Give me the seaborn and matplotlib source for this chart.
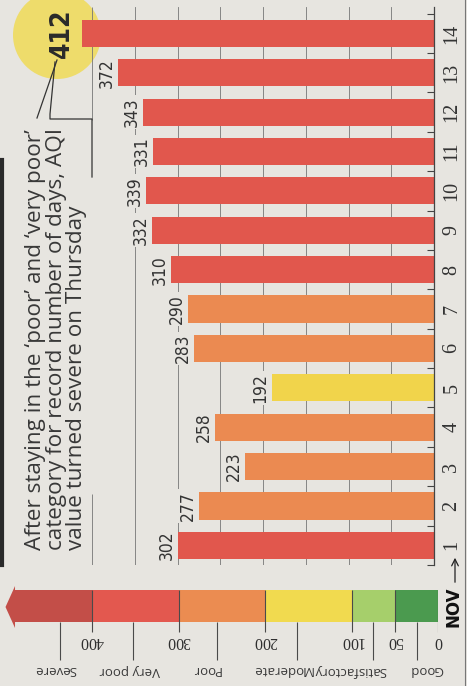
import numpy as np
import pandas as pd
import seaborn as sns
import matplotlib.pyplot as plt
from matplotlib.patches import Polygon, Circle
from matplotlib import font_manager

days = [str(d) for d in range(1, 15)]
aqi = [302, 277, 223, 258, 192, 283, 290, 310, 332, 339, 331, 343, 372, 412]

band_names = ['Good', 'Satisfactory', 'Moderate', 'Poor', 'Very poor', 'Severe']
band_edges = [0, 50, 100, 200, 300, 400, 500]
band_colors = ['#4b9a4f', '#a6cf6b', '#f1da4f', '#eb8c51', '#e3584f', '#c34e48']
bar_palette = {'Moderate': '#f1d44b', 'Poor': '#eb8a51', 'Very poor': '#e1574d', 'Severe': '#e1574d'}

note = ("After staying in the \u2018poor\u2019 and \u2018very poor\u2019\n"
        "category for record number of days, AQI\n"
        "value turned severe on Thursday")

paper = '#e7e5e0'
ink = '#333333'
W, H = 467, 686

names = {f.name for f in font_manager.fontManager.ttflist}
narrow = 'Liberation Sans Narrow' if 'Liberation Sans Narrow' in names else 'DejaVu Sans'
serif = 'Liberation Serif' if 'Liberation Serif' in names else 'DejaVu Serif'
sans = 'Open Sans' if 'Open Sans' in names else 'DejaVu Sans'

bands = [band_names[np.searchsorted(band_edges, v) - 1] for v in aqi]
df = pd.DataFrame({'day': days, 'aqi': aqi, 'band': bands})
order = days[::-1]
pal = {d: bar_palette[b] for d, b in zip(days, bands)}

fig = plt.figure(figsize=(W / 100, H / 100), dpi=100)
fig.patch.set_facecolor(paper)

# yellow highlight behind the last bar
bg = fig.add_axes([0, 0, 1, 1], zorder=-1)
bg.set_xlim(0, W)
bg.set_ylim(H, 0)
bg.axis('off')
bg.add_patch(Circle((57, 35), 44, color='#eedc6b', lw=0))

# main chart, turned on its side
ax = fig.add_axes([0, 1 - 565 / H, 434 / W, (565 - 7) / H], zorder=1)
ax.set_facecolor('none')
sns.barplot(data=df, x='aqi', y='day', hue='day', order=order, hue_order=days,
            palette=pal, orient='h', width=0.69, saturation=1, legend=False,
            linewidth=0, ax=ax, zorder=2)
ax.set_xlim(434 / 0.855, 0)
ax.set_ylim(13.5, -0.67)

for v in range(50, 400, 50):
    ax.axvline(v, color='#767676', lw=0.6, zorder=1)
ax.vlines(400, -0.67, 2.2, color='#767676', lw=0.6, zorder=1)
ax.vlines(400, 11.7, 13.5, color='#767676', lw=0.6, zorder=1)

for d, v in zip(days, aqi):
    y = order.index(d)
    if v == max(aqi):
        ax.text(v + 15, y, str(v), rotation=90, rotation_mode='anchor', ha='center',
                va='baseline', fontsize=19, fontweight='bold', family=narrow,
                fontstretch='condensed', color='#2a2a2a', zorder=3)
    else:
        ax.text(v + 5, y, str(v), rotation=90, rotation_mode='anchor', ha='center',
                va='baseline', fontsize=12.5, family=narrow, fontstretch='condensed',
                color=ink, zorder=3,
                bbox=dict(boxstyle='square,pad=0.12', fc=paper, ec='none'))

for s in ['left', 'top', 'bottom']:
    ax.spines[s].set_visible(False)
ax.spines['right'].set_color('#444444')
ax.spines['right'].set_linewidth(0.9)
ax.set_xticks([])
ax.set_xlabel('')
ax.set_ylabel('')
ax.yaxis.tick_right()
ax.set_yticks(range(len(order)))
ax.set_yticklabels(order)
for lab in ax.get_yticklabels():
    lab.set_rotation(90)
    lab.set_va('center')
    lab.set_family(serif)
    lab.set_fontsize(14.5)
    lab.set_color(ink)
ax.set_yticks(np.arange(-0.5, 14, 1), minor=True)
ax.tick_params(axis='y', which='major', length=0, pad=6)
ax.tick_params(axis='y', which='minor', direction='in', length=5, width=0.8,
               color='#444444', right=True, left=False)

# colour key along the bottom
lg = fig.add_axes([0, 0, 438 / W, 126 / H], zorder=1)
lg.set_facecolor('none')
lg.set_xlim(438 / 0.865, 0)
lg.set_ylim(126, 0)
lg.axis('off')
for i in range(5):
    lg.barh(46, band_edges[i + 1] - band_edges[i], left=band_edges[i], height=32,
            color=band_colors[i], lw=0)
lo, hi = band_edges[5], band_edges[6]
lg.add_patch(Polygon([(lo, 30), (hi - 11, 30), (hi - 11, 26), (hi, 47),
                      (hi - 11, 68), (hi - 11, 62), (lo, 62)],
                     closed=True, color=band_colors[5], lw=0))
lg.vlines(band_edges[:6], 30, 72, color='#4a4a4a', lw=0.8)
for e in band_edges[:6]:
    lg.text(e, 81, str(e), rotation=180, ha='center', va='center',
            family=serif, fontsize=11.5, color='#2e2e2e')

cat_mark = [24, 75, 163, 255, 353, 437]
cat_text_at = [13, 101, 180, 268, 356, 442]
lg.vlines(cat_mark, 62, 100, color='#4a4a4a', lw=0.8)
for name, c in zip(band_names, cat_text_at):
    lg.text(c, 110, name, rotation=180, ha='center', va='center',
            family=sans, fontsize=9.5, color='#3a3a3a')

# annotation, leaders and framing
fg = fig.add_axes([0, 0, 1, 1], zorder=5)
fg.set_facecolor('none')
fg.set_xlim(0, W)
fg.set_ylim(H, 0)
fg.axis('off')
fg.text(25, 550, note, rotation=90, rotation_mode='anchor', ha='left', va='top',
        fontsize=16.2, family=sans, color='#383838', linespacing=0.98)
fg.plot([57, 37], [60, 118], color=ink, lw=0.9)
fg.plot([55, 50, 50, 92, 92], [62, 114, 119, 119, 177], color=ink, lw=0.9)
fg.text(453, 607, 'NOV', rotation=90, ha='center', va='center', fontsize=12,
        fontweight='bold', family='DejaVu Sans', color='#111111')
fg.annotate('', xy=(455, 555), xytext=(455, 585),
            arrowprops=dict(arrowstyle='->', color='#222222', lw=0.9, mutation_scale=12))
fg.plot([465, 465], [0, H], color='#777777', lw=0.8)
fg.plot([1.5, 1.5], [160, 565], color='#2a2a2a', lw=3)

fig.savefig('out.png', dpi=100, facecolor=paper)
